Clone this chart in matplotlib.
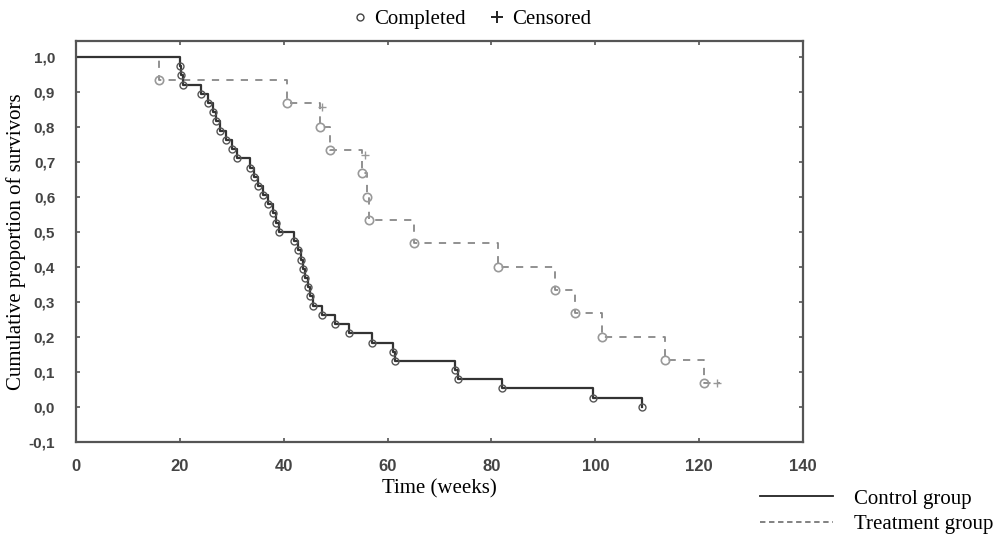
import matplotlib
matplotlib.use('Agg')
import matplotlib.pyplot as plt
from matplotlib.lines import Line2D

# Control group: event times (weeks) and survival level after each event
ctrl_t = [0, 20.0, 20.3, 20.7, 24.0, 25.5, 26.3, 27.0, 27.7, 28.8, 30.0, 31.0,
          33.5, 34.2, 35.0, 36.0, 37.0, 38.0, 38.5, 39.0, 42.0, 42.8, 43.3, 43.7,
          44.1, 44.6, 45.1, 45.7, 47.4, 49.9, 52.5, 57.0, 61.0, 61.5, 73.0, 73.5,
          82.0, 99.5, 109.0]
ctrl_s = [1.0, 0.974, 0.947, 0.921, 0.895, 0.868, 0.842, 0.816, 0.789, 0.763,
          0.737, 0.711, 0.684, 0.658, 0.632, 0.605, 0.579, 0.553, 0.526, 0.50,
          0.474, 0.447, 0.421, 0.395, 0.368, 0.342, 0.316, 0.289, 0.263, 0.237,
          0.211, 0.184, 0.158, 0.132, 0.105, 0.079, 0.053, 0.026, 0.0]

# Treatment group
trt_t = [0, 16.0, 40.6, 47.0, 49.0, 55.0, 56.0, 56.5, 65.0, 81.3, 92.2, 96.0,
         101.3, 113.5, 121.0]
trt_s = [1.0, 0.933, 0.867, 0.80, 0.733, 0.667, 0.60, 0.533, 0.467, 0.40,
         0.333, 0.267, 0.20, 0.133, 0.067]
trt_end = 124.0

# censored marks (treatment)
cens_t = [47.4, 55.7, 123.5]
cens_s = [0.857, 0.72, 0.067]

xticks = [0, 20, 40, 60, 80, 100, 120, 140]
yticks = [-0.1, 0.0, 0.1, 0.2, 0.3, 0.4, 0.5, 0.6, 0.7, 0.8, 0.9, 1.0]
ylabels = ['-0,1', '0,0', '0,1', '0,2', '0,3', '0,4', '0,5', '0,6', '0,7',
           '0,8', '0,9', '1,0']

serif = 'Liberation Serif'
tickfont = 'Liberation Sans'

fig = plt.figure(figsize=(10, 5.37), dpi=100)
ax = fig.add_axes([0.076, 0.177, 0.727, 0.747])

ax.step(trt_t + [trt_end], trt_s + [trt_s[-1]], where='post',
        color='#888888', lw=1.3, ls=(0, (4, 4)))
ax.plot(trt_t[1:], trt_s[1:], 'o', ms=6, mfc='none', mec='#999999', mew=1.2)
ax.plot(cens_t, cens_s, '+', ms=6, color='#999999', mew=1.0)

ax.step(ctrl_t, ctrl_s, where='post', color='#333333', lw=1.6)
ax.plot(ctrl_t[1:], ctrl_s[1:], 'o', ms=5, mfc='none', mec='#555555', mew=1.0)

ax.set_xlim(0, 140)
ax.set_ylim(-0.1, 1.046)
ax.set_xticks(xticks)
ax.set_yticks(yticks)
ax.set_yticklabels(ylabels)
ax.tick_params(direction='in', length=3, width=1.2, color='#555555',
               top=True, right=True, labelcolor='#444444')
ax.tick_params(axis='x', labelsize=12, pad=12)
ax.tick_params(axis='y', labelsize=11, pad=15)
for lab in ax.get_xticklabels() + ax.get_yticklabels():
    lab.set_fontweight('bold')
    lab.set_family(tickfont)
for sp in ax.spines.values():
    sp.set_linewidth(1.6)
    sp.set_color('#555555')

ax.set_xlabel('Time (weeks)', family=serif, fontsize=15, labelpad=4)
ax.set_ylabel('Cumulative proportion of survivors', family=serif, fontsize=15,
              labelpad=2)

# top legend
top_handles = [Line2D([], [], ls='none', marker='o', ms=5, mfc='none', mec='#444444'),
               Line2D([], [], ls='none', marker='+', ms=9, color='#222222', mew=1.4)]
fig.legend(top_handles, ['Completed', 'Censored'], loc='center',
           bbox_to_anchor=(0.47, 0.964), ncol=2, frameon=False,
           handlelength=1.0, handletextpad=0.2, columnspacing=1.0,
           prop={'family': serif, 'size': 15})

# bottom right legend
bot_handles = [Line2D([], [], color='#222222', lw=1.3),
               Line2D([], [], color='#777777', lw=1.3, ls=(0, (3, 2)))]
fig.legend(bot_handles, ['Control group', 'Treatment group'], loc='upper left',
           bbox_to_anchor=(0.752, 0.105), frameon=False, handlelength=3.5,
           handletextpad=1.0, labelspacing=0.3, borderaxespad=0,
           prop={'family': serif, 'size': 15})

fig.savefig('out.png', dpi=100)
